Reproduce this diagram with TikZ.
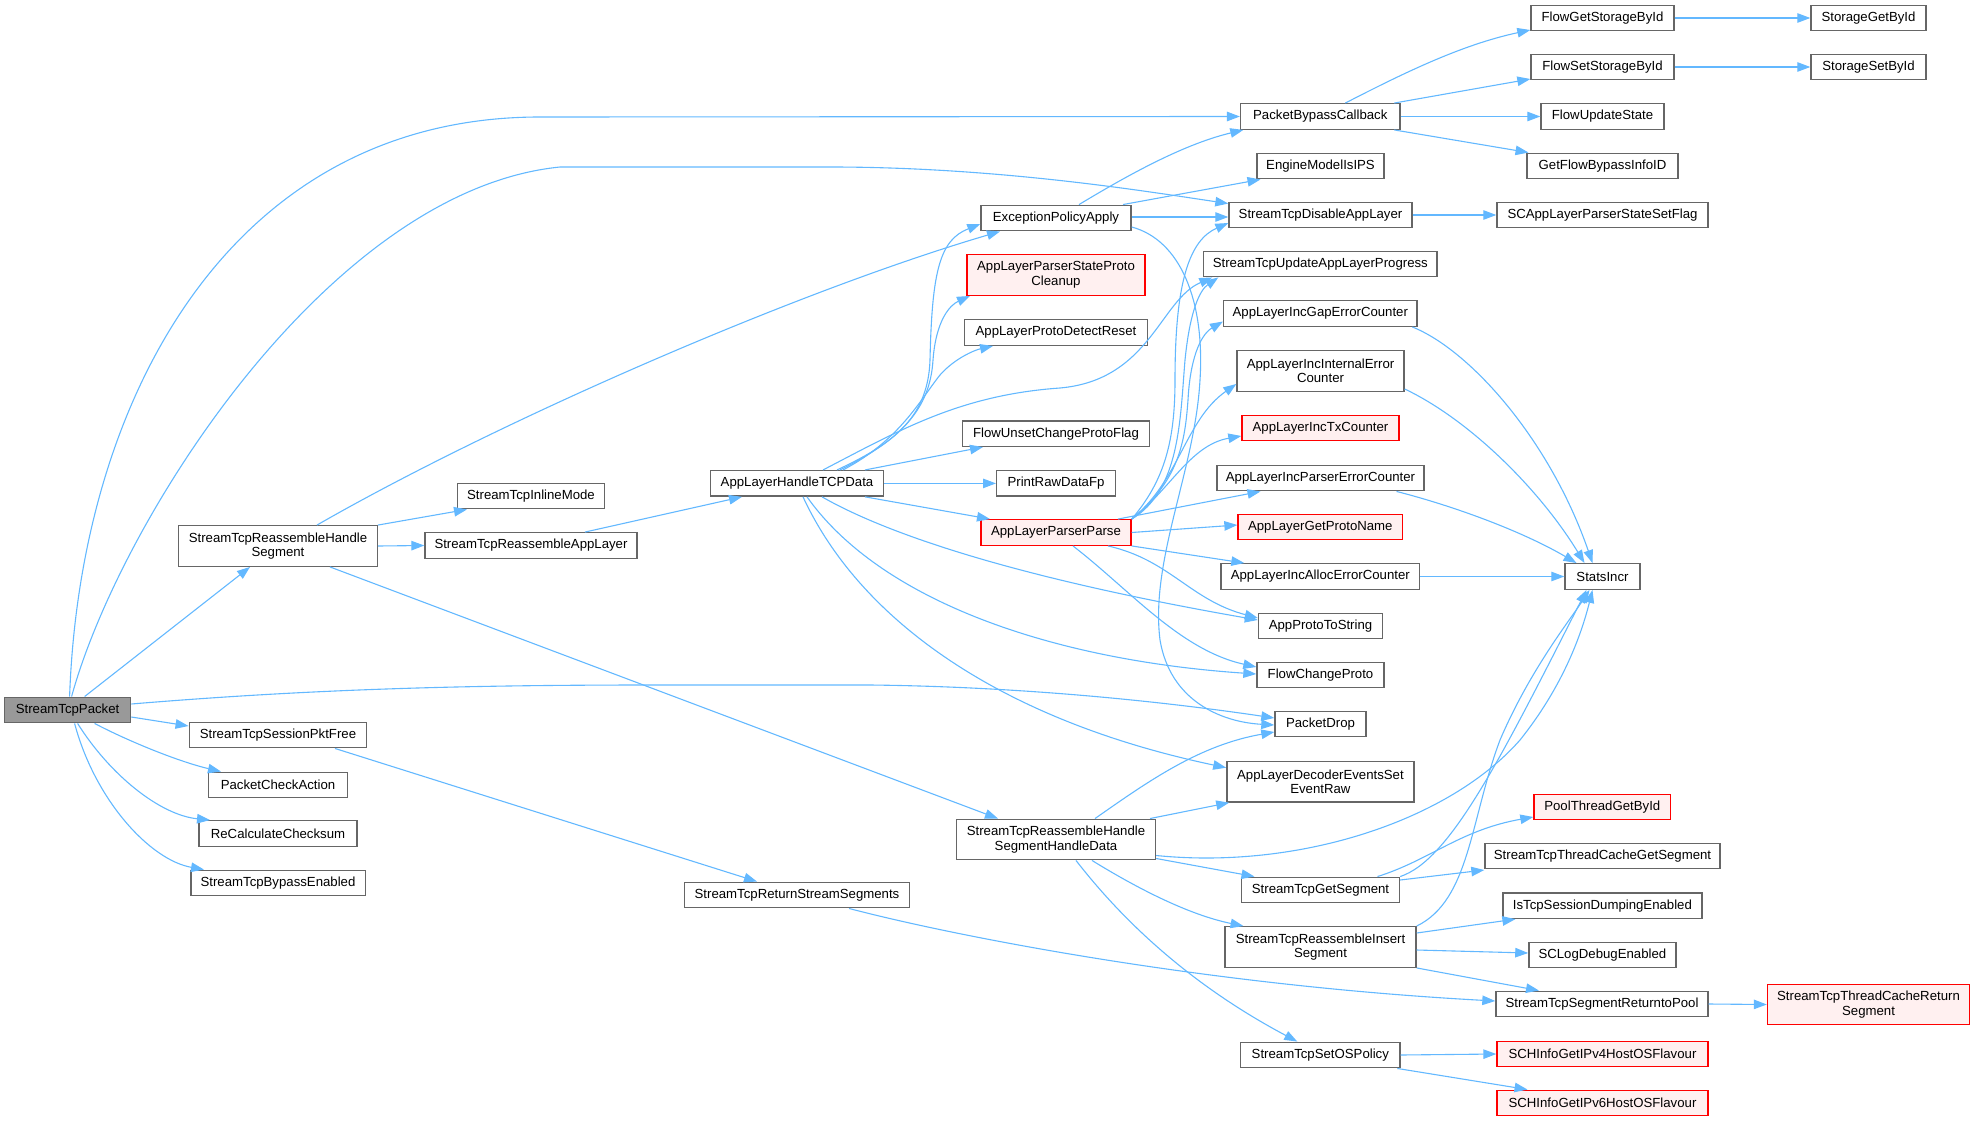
\documentclass[tikz,border=0pt]{standalone}
\usepackage{fontspec}
\setmainfont{Liberation Sans}
\usetikzlibrary{arrows.meta}
\definecolor{edgeblue}{HTML}{63B8FF}
\definecolor{boxgray}{HTML}{666666}
\definecolor{rootgray}{HTML}{999999}
\definecolor{redfill}{HTML}{FFF0F0}
\begin{document}
\begin{tikzpicture}[x=1pt,y=-1pt,
  fn/.style={draw=boxgray, fill=white, line width=1.4pt, inner xsep=3pt, inner ysep=0pt,
    minimum height=25.5pt, align=center, font=\fontsize{13.2}{14.5}\selectfont},
  fn2/.style={fn, minimum height=40.5pt},
  redfn/.style={draw=red, fill=redfill},
  rootfn/.style={fill=rootgray},
  edge/.style={draw=edgeblue, line width=1.1pt, -{Triangle[length=13pt,width=9.5pt]}}]
\useasboundingbox (0,0) rectangle (1975,1121);

% column 0
\node[fn, rootfn, minimum width=126pt] (spkt) at (67.6,710) {StreamTcpPacket};
% column 1
\node[fn2, minimum width=198.6pt] (rhs) at (278,546) {StreamTcpReassembleHandle\\Segment};
\node[fn, minimum width=177.5pt] (spf) at (278,735) {StreamTcpSessionPktFree};
\node[fn, minimum width=138.5pt] (pca) at (278,785) {PacketCheckAction};
\node[fn, minimum width=158pt] (rcc) at (278,833.5) {ReCalculateChecksum};
\node[fn, minimum width=174.4pt] (sbe) at (278,883) {StreamTcpBypassEnabled};
% column 2
\node[fn, minimum width=147pt] (inl) at (531,496) {StreamTcpInlineMode};
\node[fn, minimum width=212pt] (rapp) at (531,545.5) {StreamTcpReassembleAppLayer};
% column 3
\node[fn, minimum width=173.5pt] (hdata) at (797,483.4) {AppLayerHandleTCPData};
\node[fn, minimum width=224.6pt] (rss) at (797,895) {StreamTcpReturnStreamSegments};
% column 4
\node[fn, minimum width=150pt] (epa) at (1056,218) {ExceptionPolicyApply};
\node[fn2, redfn, minimum width=178pt] (cln) at (1056,275) {AppLayerParserStateProto\\Cleanup};
\node[fn, minimum width=183pt] (pdr) at (1056,332.5) {AppLayerProtoDetectReset};
\node[fn, minimum width=187pt] (fuc) at (1056,433.6) {FlowUnsetChangeProtoFlag};
\node[fn, minimum width=118.6pt] (prd) at (1056,483.4) {PrintRawDataFp};
\node[fn, redfn, minimum width=150pt] (app) at (1056,532.5) {AppLayerParserParse};
\node[fn2, minimum width=199pt] (hsd) at (1056,839.5) {StreamTcpReassembleHandle\\SegmentHandleData};
% column 5
\node[fn, minimum width=159.4pt] (pbc) at (1320.3,116.5) {PacketBypassCallback};
\node[fn, minimum width=127pt] (eip) at (1320.5,166) {EngineModelIsIPS};
\node[fn, minimum width=183pt] (dal) at (1320.5,215) {StreamTcpDisableAppLayer};
\node[fn, minimum width=233.4pt] (uap) at (1320.3,264) {StreamTcpUpdateAppLayerProgress};
\node[fn, minimum width=193.3pt] (gap) at (1320.3,313.5) {AppLayerIncGapErrorCounter};
\node[fn2, minimum width=167pt] (ier) at (1320.5,371) {AppLayerIncInternalError\\Counter};
\node[fn, redfn, minimum width=157pt] (txc) at (1320.5,428) {AppLayerIncTxCounter};
\node[fn, minimum width=207pt] (per) at (1320.5,478) {AppLayerIncParserErrorCounter};
\node[fn, redfn, minimum width=164.5pt] (gpn) at (1320.3,527) {AppLayerGetProtoName};
\node[fn, minimum width=198.7pt] (aer) at (1320.3,576.5) {AppLayerIncAllocErrorCounter};
\node[fn, minimum width=124pt] (pts) at (1320.5,626) {AppProtoToString};
\node[fn, minimum width=127pt] (fcp) at (1320.5,675) {FlowChangeProto};
\node[fn, minimum width=91pt] (pdp) at (1320.5,724) {PacketDrop};
\node[fn2, minimum width=187pt] (der) at (1320.4,781.7) {AppLayerDecoderEventsSet\\EventRaw};
\node[fn, minimum width=158pt] (gseg) at (1320.5,890) {StreamTcpGetSegment};
\node[fn2, minimum width=191pt] (ris) at (1320.5,947) {StreamTcpReassembleInsert\\Segment};
\node[fn, minimum width=159.4pt] (osp) at (1320.3,1055) {StreamTcpSetOSPolicy};
% column 6
\node[fn, minimum width=143pt] (fgs) at (1602.5,18) {FlowGetStorageById};
\node[fn, minimum width=143pt] (fss) at (1602.5,67) {FlowSetStorageById};
\node[fn, minimum width=123pt] (fus) at (1602.5,116.5) {FlowUpdateState};
\node[fn, minimum width=151pt] (gfb) at (1602.5,166) {GetFlowBypassInfoID};
\node[fn, minimum width=211pt] (sfl) at (1602.5,215) {SCAppLayerParserStateSetFlag};
\node[fn, minimum width=75pt] (sti) at (1602.5,576.5) {StatsIncr};
\node[fn, redfn, minimum width=136.6pt] (ptg) at (1602.3,807) {PoolThreadGetById};
\node[fn, minimum width=235pt] (tcg) at (1602.5,856) {StreamTcpThreadCacheGetSegment};
\node[fn, minimum width=199pt] (tsd) at (1602.4,905.7) {IsTcpSessionDumpingEnabled};
\node[fn, minimum width=147pt] (sld) at (1602.4,955) {SCLogDebugEnabled};
\node[fn, minimum width=212pt] (srp) at (1602,1004) {StreamTcpSegmentReturntoPool};
\node[fn, redfn, minimum width=211pt] (v4) at (1602.5,1054) {SCHInfoGetIPv4HostOSFlavour};
\node[fn, redfn, minimum width=211pt] (v6) at (1602.5,1103) {SCHInfoGetIPv6HostOSFlavour};
% column 7
\node[fn, minimum width=115pt] (sgb) at (1868.5,18) {StorageGetById};
\node[fn, minimum width=115pt] (ssb) at (1868.5,67) {StorageSetById};
\node[fn2, redfn, minimum width=202pt] (tcr) at (1868.5,1004.5) {StreamTcpThreadCacheReturn\\Segment};

% edges from StreamTcpPacket
\draw[edge] ([xshift=2pt]spkt.north) .. controls (80,400) and (230,117) .. (540,117) -- (pbc.west);
\draw[edge] ([xshift=4pt]spkt.north) .. controls (120,520) and (330,190) .. (560,167) -- (830,167) .. controls (1000,167) and (1150,192) .. ([yshift=-2pt]dal.north west);
\draw[edge] ([xshift=17pt]spkt.north) -- ([xshift=-28pt]rhs.south);
\draw[edge] ([yshift=6pt]spkt.east) .. controls (300,690) and (450,685) .. (650,685) -- (870,685) .. controls (1050,687) and (1200,707) .. ([yshift=6pt]pdp.west);
\draw[edge] ([yshift=-7pt]spkt.east) -- ([yshift=9pt]spf.west);
\draw[edge] ([xshift=27pt]spkt.south) .. controls (130,742) and (180,762) .. ([xshift=-57pt]pca.north);
\draw[edge] ([xshift=10pt]spkt.south) .. controls (110,775) and (160,815) .. ([xshift=-68pt]rcc.north);
\draw[edge] ([xshift=7pt]spkt.south) .. controls (95,800) and (150,860) .. ([xshift=-74pt]sbe.north);

% StreamTcpReassembleHandleSegment
\draw[edge] ([xshift=39pt]rhs.north) .. controls (500,420) and (800,290) .. ([xshift=-56pt]epa.south);
\draw[edge] (rhs.north east) -- ([xshift=-64pt]inl.south);
\draw[edge] (rhs.east) -- (rapp.west);
\draw[edge] ([xshift=52pt]rhs.south) -- ([xshift=-58pt]hsd.north);

\draw[edge] ([xshift=57pt]spf.south) -- ([xshift=-40pt]rss.north);
\draw[edge] ([xshift=52pt]rss.south) .. controls (950,935) and (1200,985) .. ([yshift=3pt]srp.west);
\draw[edge] ([xshift=54pt]rapp.north) -- ([xshift=-55pt]hdata.south);

% AppLayerHandleTCPData
\draw[edge] ([xshift=40pt]hdata.north) .. controls (890,445) and (928,420) .. (930,360) .. controls (932,270) and (940,240) .. ([yshift=-6pt]epa.west);
\draw[edge] ([xshift=43pt]hdata.north) .. controls (900,440) and (930,410) .. (933,360) .. controls (936,320) and (950,305) .. ([xshift=-86pt]cln.south);
\draw[edge] ([xshift=46pt]hdata.north) .. controls (900,440) and (920,400) .. (940,375) .. controls (955,358) and (975,350) .. ([xshift=-63pt]pdr.south);
\draw[edge] ([xshift=26pt]hdata.north) .. controls (900,430) and (960,395) .. (1060,388) .. controls (1150,380) and (1160,300) .. ([xshift=-108pt]uap.south);
\draw[edge] ([xshift=68pt]hdata.north) -- ([xshift=-73pt]fuc.south);
\draw[edge] (hdata.east) -- (prd.west);
\draw[edge] ([xshift=68pt]hdata.south) -- ([xshift=-66pt]app.north);
\draw[edge] ([xshift=25pt]hdata.south) .. controls (880,530) and (1000,575) .. ([yshift=6pt]pts.west);
\draw[edge] ([xshift=10pt]hdata.south) .. controls (880,600) and (1050,660) .. ([yshift=1pt]fcp.west);
\draw[edge] ([xshift=6pt]hdata.south) .. controls (860,620) and (1000,720) .. ([yshift=14pt]der.west);

% ExceptionPolicyApply
\draw[edge] ([xshift=23pt]epa.north) .. controls (1120,180) and (1180,145) .. ([xshift=-77pt]pbc.south);
\draw[edge] ([xshift=67pt]epa.north) -- ([xshift=-60pt]eip.south);
\draw[edge] ([yshift=1pt]epa.east) -- ([yshift=-2pt]dal.west);
\draw[edge] ([yshift=-9pt]epa.east) .. controls (1180,240) and (1205,300) .. (1200,380) .. controls (1195,470) and (1150,560) .. (1160,640) .. controls (1170,700) and (1220,722) .. ([yshift=-1pt]pdp.west);

% AppLayerParserParse
\draw[edge] (app.north east) .. controls (1165,480) and (1175,440) .. (1175,380) .. controls (1175,280) and (1190,240) .. ([yshift=-8pt]dal.west);
\draw[edge] (app.north east) .. controls (1180,490) and (1180,420) .. (1185,360) .. controls (1190,310) and (1200,290) .. ([xshift=-102pt]uap.south);
\draw[edge] (app.north east) .. controls (1180,480) and (1185,440) .. (1188,400) .. controls (1190,360) and (1200,335) .. ([yshift=-8pt]gap.west);
\draw[edge] (app.north east) .. controls (1180,480) and (1185,420) .. ([yshift=-13pt]ier.west);
\draw[edge] (app.north east) .. controls (1170,490) and (1190,445) .. ([yshift=-8pt]txc.west);
\draw[edge] ([xshift=62pt]app.north) -- ([xshift=-60pt]per.south);
\draw[edge] (app.east) -- ([yshift=2pt]gpn.west);
\draw[edge] (app.south east) -- ([xshift=-76pt]aer.north);
\draw[edge] ([xshift=52pt]app.south) .. controls (1170,560) and (1190,600) .. ([yshift=8pt]pts.west);
\draw[edge] ([xshift=17pt]app.south) .. controls (1130,590) and (1180,650) .. ([yshift=8pt]fcp.west);

% StatsIncr callers
\draw[edge] ([xshift=92pt]gap.south) .. controls (1470,350) and (1550,440) .. ([xshift=-10pt]sti.north);
\draw[edge] ([yshift=-18pt]ier.east) .. controls (1470,420) and (1540,490) .. ([xshift=-18pt]sti.north);
\draw[edge] ([xshift=76pt]per.south) .. controls (1450,505) and (1520,530) .. ([xshift=-26pt]sti.north);
\draw[edge] (aer.east) -- (sti.west);

% StreamTcpReassembleHandleSegmentHandleData
\draw[edge] ([xshift=39pt]hsd.north) .. controls (1150,780) and (1200,745) .. ([yshift=-8pt]pdp.west);
\draw[edge] ([xshift=94pt]hsd.north) -- ([xshift=3pt]der.south west);
\draw[edge] ([yshift=-16pt]hsd.east) .. controls (1300,870) and (1450,820) .. (1520,740) .. controls (1560,690) and (1580,640) .. ([xshift=-10pt]sti.south);
\draw[edge] ([yshift=-19pt]hsd.east) -- ([xshift=-66pt]gseg.north);
\draw[edge] ([xshift=36pt]hsd.south) .. controls (1140,890) and (1190,915) .. ([xshift=-77pt]ris.north);
\draw[edge] ([xshift=20pt]hsd.south) .. controls (1130,930) and (1200,990) .. ([xshift=-23pt]osp.north);

% StreamTcpGetSegment
\draw[edge] (gseg.north east) .. controls (1450,860) and (1500,760) .. ([xshift=-16pt]sti.south);
\draw[edge] ([xshift=57pt]gseg.north) .. controls (1430,860) and (1460,830) .. ([yshift=-10pt]ptg.west);
\draw[edge] ([yshift=10pt]gseg.east) -- ([yshift=-14pt]tcg.west);

% StreamTcpReassembleInsertSegment
\draw[edge] (ris.north east) .. controls (1470,900) and (1470,820) .. (1500,740) .. controls (1530,670) and (1570,620) .. ([xshift=-13pt]sti.south);
\draw[edge] ([yshift=14pt]ris.east) -- ([xshift=-87pt]tsd.south);
\draw[edge] ([yshift=-3pt]ris.east) -- ([yshift=2pt]sld.west);
\draw[edge] (ris.south east) -- ([xshift=-63pt]srp.north);

\draw[edge] (srp.east) -- (tcr.west);
\draw[edge] (osp.east) -- (v4.west);
\draw[edge] ([xshift=77pt]osp.south) -- ([xshift=-75pt]v6.north);

% PacketBypassCallback
\draw[edge] ([xshift=25pt]pbc.north) .. controls (1400,75) and (1460,45) .. ([yshift=-12pt]fgs.west);
\draw[edge] ([xshift=74pt]pbc.north) -- ([yshift=-12pt]fss.west);
\draw[edge] (pbc.east) -- (fus.west);
\draw[edge] ([xshift=74pt]pbc.south) -- ([xshift=-74pt]gfb.north);

\draw[edge] (fgs.east) -- (sgb.west);
\draw[edge] (fss.east) -- (ssb.west);
\draw[edge] (dal.east) -- (sfl.west);
\end{tikzpicture}
\end{document}
